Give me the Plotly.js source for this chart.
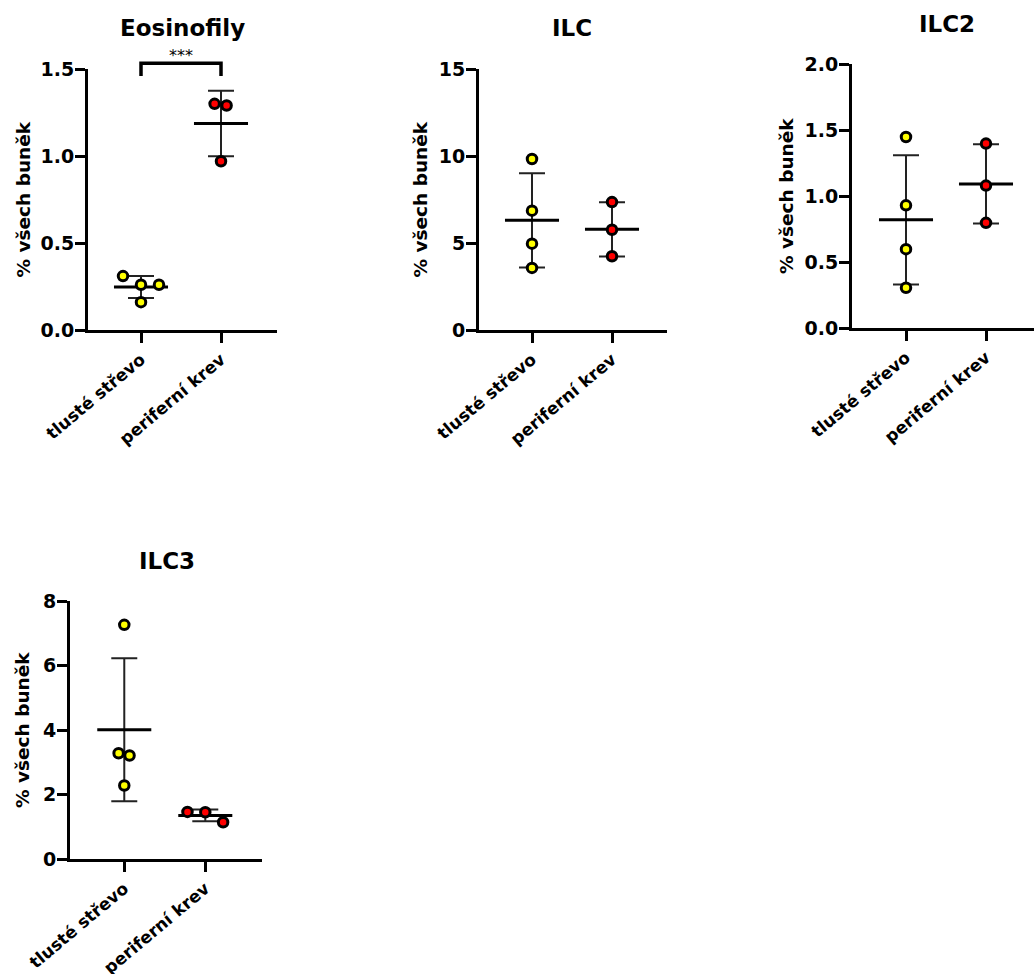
<!DOCTYPE html>
<html><head><meta charset="utf-8">
<script src="https://cdn.plot.ly/plotly-3.0.1.min.js"></script>
<style>html,body{margin:0;padding:0;background:#fff;} #chart{width:1034px;height:974px;}</style>
</head><body><div id="chart"></div>
<script>
// ---- data ----
const categories = ['tlusté střevo', 'periferní krev'];
const panelTitles = ['Eosinofily', 'ILC', 'ILC2', 'ILC3'];
const yTitle = '% všech buněk';
const sigLabel = '***';

const eosColon = [0.31, 0.26, 0.26, 0.16];
const eosBlood = [1.30, 1.29, 0.97];
const ilcColon = [9.83, 6.86, 4.96, 3.57];
const ilcBlood = [7.35, 5.76, 4.24];
const ilc2Colon = [1.447, 0.929, 0.597, 0.305];
const ilc2Blood = [1.397, 1.079, 0.797];
const ilc3Colon = [7.26, 3.28, 3.21, 2.28];
const ilc3Blood = [1.46, 1.45, 1.14];

const eosTicks = [0, 0.5, 1.0, 1.5];
const ilcTicks = [0, 5, 10, 15];
const ilc2Ticks = [0, 0.5, 1.0, 1.5, 2.0];
const ilc3Ticks = [0, 2, 4, 6, 8];

// horizontal scatter of overlapping points (category units)
const eosColonJit = [-0.225, 0, 0.225, 0];
const eosBloodJit = [-0.08, 0.07, 0];
const ilcColonJit = [0, 0, 0, 0];
const ilcBloodJit = [0, 0, 0];
const ilc2ColonJit = [0, 0, 0, 0];
const ilc2BloodJit = [0, 0, 0];
const ilc3ColonJit = [0, -0.07, 0.065, 0];
const ilc3BloodJit = [-0.22, 0, 0.22];

// significance bracket (Eosinofily): between categories 0 and 1
const sigPair = [0, 1];
const sigTop = 1.533, sigLeg = 1.46;

// ---- layout geometry (px) ----
const W = 1034, H = 974;
const FONT = 'DejaVu Sans';
const panels = [
  {colon: eosColon, blood: eosBlood, jc: eosColonJit, jb: eosBloodJit, ticks: eosTicks, fmt: '.1f',
   px: [88, 277], py: [69, 330], xr: [-0.6625, 1.7], title: [182, 28], ytl: [23, 199.5]},
  {colon: ilcColon, blood: ilcBlood, jc: ilcColonJit, jb: ilcBloodJit, ticks: ilcTicks, fmt: 'd',
   px: [479, 667], py: [69, 330], xr: [-0.6625, 1.6875], title: [572, 28], ytl: [420, 199.5]},
  {colon: ilc2Colon, blood: ilc2Blood, jc: ilc2ColonJit, jb: ilc2BloodJit, ticks: ilc2Ticks, fmt: '.1f',
   px: [852, 1034], py: [64, 328], xr: [-0.675, 1.6], title: [947, 24], ytl: [787, 196]},
  {colon: ilc3Colon, blood: ilc3Blood, jc: ilc3ColonJit, jb: ilc3BloodJit, ticks: ilc3Ticks, fmt: 'd',
   px: [70, 262], py: [601, 859], xr: [-0.67, 1.7], title: [167, 561], ytl: [22, 730]}
];

function mean(a) { return a.reduce((s, v) => s + v, 0) / a.length; }
function sd(a) { const m = mean(a); return Math.sqrt(a.reduce((s, v) => s + (v - m) * (v - m), 0) / (a.length - 1)); }

const traces = [];
const layout = {
  width: W, height: H, margin: {l: 0, r: 0, t: 0, b: 0},
  paper_bgcolor: '#fff', plot_bgcolor: '#fff', showlegend: false,
  annotations: [], shapes: [], hovermode: false
};

panels.forEach((p, i) => {
  const n = i === 0 ? '' : String(i + 1);
  const xa = 'x' + n, ya = 'y' + n;
  // mean + SD
  traces.push({
    type: 'scatter', mode: 'markers', xaxis: xa, yaxis: ya,
    x: [0, 1], y: [mean(p.colon), mean(p.blood)],
    error_y: {type: 'data', array: [sd(p.colon), sd(p.blood)], visible: true, thickness: 2, width: 13, color: '#222'},
    marker: {symbol: 'line-ew', size: 38.6, color: '#000', line: {color: '#000', width: 3}},
    cliponaxis: false
  });
  traces.push({
    type: 'scatter', mode: 'markers', xaxis: xa, yaxis: ya,
    x: p.colon.map((v, k) => 0 + p.jc[k]), y: p.colon,
    marker: {symbol: 'circle', size: 9.5, color: '#FFFF00', line: {color: '#000', width: 3}},
    cliponaxis: false
  });
  traces.push({
    type: 'scatter', mode: 'markers', xaxis: xa, yaxis: ya,
    x: p.blood.map((v, k) => 1 + p.jb[k]), y: p.blood,
    marker: {symbol: 'circle', size: 9.5, color: '#FF0000', line: {color: '#000', width: 3}},
    cliponaxis: false
  });
  layout['xaxis' + n] = {
    domain: [p.px[0] / W, Math.min(1, p.px[1] / W)], anchor: ya, range: p.xr,
    tickvals: [0, 1], ticktext: categories, tickangle: -40,
    ticks: 'outside', ticklen: 10, tickwidth: 3, tickcolor: '#000',
    showline: true, linewidth: 3, linecolor: '#000', showgrid: false, zeroline: false,
    tickfont: {family: FONT, size: 17, color: '#000', weight: 'bold'}, fixedrange: true
  };
  layout['yaxis' + n] = {
    domain: [1 - p.py[1] / H, 1 - p.py[0] / H], anchor: xa,
    range: [0, p.ticks[p.ticks.length - 1]], tickvals: p.ticks, tickformat: p.fmt,
    ticks: 'outside', ticklen: 10, tickwidth: 3, tickcolor: '#000', ticklabelstandoff: -3,
    showline: true, linewidth: 3, linecolor: '#000', showgrid: false, zeroline: false,
    tickfont: {family: FONT, size: 19, color: '#000', weight: 'bold'}, fixedrange: true
  };
  layout.annotations.push({
    xref: 'paper', yref: 'paper', x: p.title[0] / W, y: 1 - p.title[1] / H,
    xanchor: 'center', yanchor: 'middle', showarrow: false,
    text: '<b>' + panelTitles[i] + '</b>', font: {family: FONT, size: 23, color: '#000'}
  });
  layout.annotations.push({
    xref: 'paper', yref: 'paper', x: p.ytl[0] / W, y: 1 - p.ytl[1] / H,
    xanchor: 'center', yanchor: 'middle', showarrow: false, textangle: -90,
    text: '<b>' + yTitle + '</b>', font: {family: FONT, size: 18.5, color: '#000'}
  });
});

// map data values of panel 1 to paper coordinates (bracket lies above the plot area)
const xa1 = layout.xaxis, ya1 = layout.yaxis;
function px1(v) { return xa1.domain[0] + (v - xa1.range[0]) / (xa1.range[1] - xa1.range[0]) * (xa1.domain[1] - xa1.domain[0]); }
function py1(v) { return ya1.domain[0] + (v - ya1.range[0]) / (ya1.range[1] - ya1.range[0]) * (ya1.domain[1] - ya1.domain[0]); }

layout.shapes.push({
  type: 'path', xref: 'paper', yref: 'paper', layer: 'above',
  path: 'M' + px1(sigPair[0]) + ',' + py1(sigLeg) + ' L' + px1(sigPair[0]) + ',' + py1(sigTop) +
        ' L' + px1(sigPair[1]) + ',' + py1(sigTop) + ' L' + px1(sigPair[1]) + ',' + py1(sigLeg),
  line: {color: '#000', width: 3.5}
});
layout.annotations.push({
  xref: 'paper', yref: 'paper', x: px1((sigPair[0] + sigPair[1]) / 2), y: py1(sigTop),
  xanchor: 'center', yanchor: 'bottom', yshift: -4, showarrow: false,
  text: sigLabel, font: {family: FONT, size: 16, color: '#000'}
});

Plotly.newPlot('chart', traces, layout, {staticPlot: true, displayModeBar: false});
</script>
</body></html>
